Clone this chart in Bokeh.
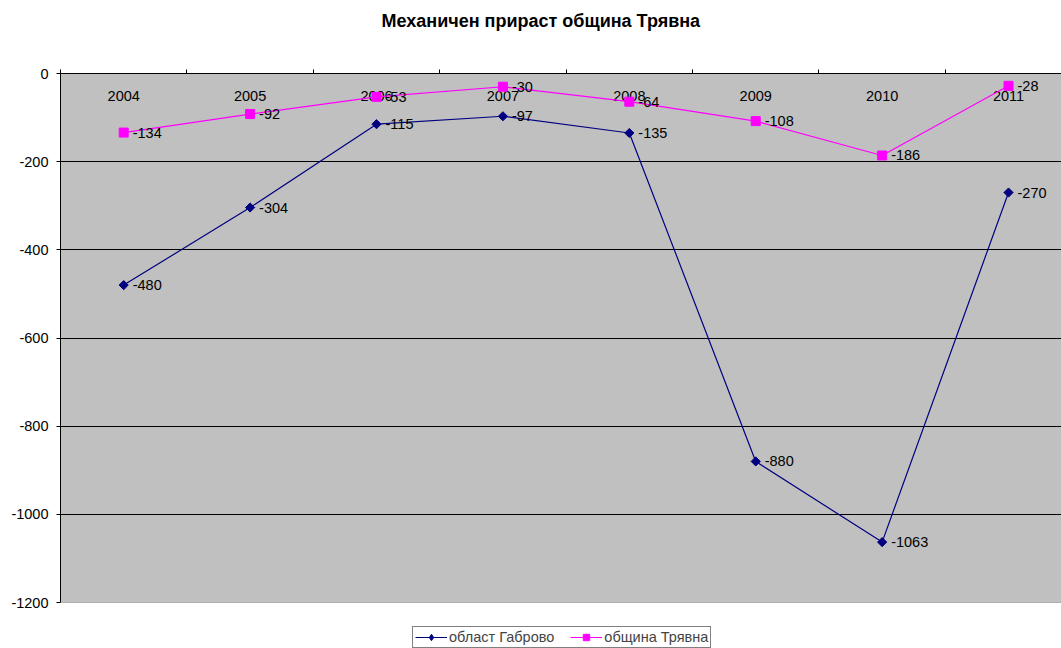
import math
from bokeh.plotting import figure
from bokeh.layouts import column
from bokeh.models import Range1d, FixedTicker, Legend, LegendItem, Span, ColumnDataSource
from bokeh.core.properties import value
from bokeh.embed import file_html
from bokeh.resources import INLINE

title_text = "Механичен прираст община Трявна"
years = ["2004", "2005", "2006", "2007", "2008", "2009", "2010", "2011"]
gabrovo = [-480, -304, -115, -97, -135, -880, -1063, -270]
tryavna = [-134, -92, -53, -30, -64, -108, -186, -28]
series_names = ["област Габрово", "община Трявна"]
y_ticks = [0, -200, -400, -600, -800, -1000, -1200]

FONT = "Liberation Sans"
FS = "14.5px"
NAVY = "#000080"
MAGENTA = "#FF00FF"
xs = [i + 0.5 for i in range(len(years))]


def bare(fig):
    fig.axis.visible = False
    fig.grid.visible = False
    fig.outline_line_color = None
    fig.background_fill_color = "white"
    fig.border_fill_color = "white"


# ---- title strip (frame is aligned with the main frame: starts at x=60, 1001 px wide) ----
p_head = figure(width=1061, height=50, output_backend="svg", toolbar_location=None,
                x_range=Range1d(0, 1001), y_range=Range1d(50, 0), min_border=0)
bare(p_head)
p_head.text(x=[321], y=[20], text=[title_text], text_align="left", text_baseline="middle",
            text_font=value(FONT), text_font_size="18px", text_font_style="bold", text_color="black")

# ---- main chart ----
p = figure(frame_width=1001, frame_height=529, output_backend="svg", toolbar_location=None,
           x_axis_location="above", x_range=Range1d(0, 7.919), y_range=Range1d(-1200, 0),
           min_border_left=60, min_border_right=0, min_border_top=23, min_border_bottom=9)
p.background_fill_color = "#C0C0C0"
p.border_fill_color = "white"
p.outline_line_color = None

p.xaxis.ticker = FixedTicker(ticks=list(range(0, 8)))
p.xaxis.major_tick_out = 4
p.xaxis.major_tick_in = 0
p.xaxis.minor_tick_line_color = None
p.xaxis.major_label_text_color = None
p.xaxis.major_label_text_font_size = "1px"
p.xaxis.axis_line_color = "black"
p.xaxis.major_tick_line_color = "black"

p.yaxis.ticker = FixedTicker(ticks=y_ticks)
p.yaxis.major_label_overrides = {v: str(v) for v in y_ticks}
p.yaxis.major_tick_out = 4
p.yaxis.major_tick_in = 0
p.yaxis.minor_tick_line_color = None
p.yaxis.axis_line_color = "black"
p.yaxis.major_label_text_font = FONT
p.yaxis.major_label_text_font_size = FS
p.yaxis.major_label_text_color = "black"
p.yaxis.major_label_standoff = 8

p.xgrid.grid_line_color = None
p.ygrid.ticker = FixedTicker(ticks=[-200, -400, -600, -800, -1000])
p.ygrid.grid_line_color = "black"
p.ygrid.grid_line_alpha = 1.0

p.add_layout(Span(location=-1200, dimension="width", line_color="#808080", line_width=1))

src_years = ColumnDataSource(dict(x=xs, y=[0] * len(xs), t=years))
p.text("x", "y", text="t", source=src_years, text_align="center", text_baseline="middle",
       y_offset=22, text_font=value(FONT), text_font_size=FS, text_color="black")

p.line(xs, gabrovo, line_color=NAVY, line_width=1.2)
p.scatter(xs, gabrovo, marker="square", angle=math.pi / 4, size=6.5, fill_color=NAVY, line_color=NAVY)
p.line(xs, tryavna, line_color=MAGENTA, line_width=1.2)
p.scatter(xs, tryavna, marker="square", size=9, fill_color=MAGENTA, line_color=MAGENTA)

src_g = ColumnDataSource(dict(x=xs, y=gabrovo, t=[str(v) for v in gabrovo]))
p.text("x", "y", text="t", source=src_g, text_align="left", text_baseline="middle", x_offset=9,
       text_font=value(FONT), text_font_size=FS, text_color="black")
src_t = ColumnDataSource(dict(x=xs, y=tryavna, t=[str(v) for v in tryavna]))
p.text("x", "y", text="t", source=src_t, text_align="left", text_baseline="middle", x_offset=9,
       text_font=value(FONT), text_font_size=FS, text_color="black")

# ---- legend strip (proxy renderers lie outside the visible range) ----
p_leg = figure(width=1061, height=37, output_backend="svg", toolbar_location=None,
               x_range=Range1d(0, 1), y_range=Range1d(0, 1), min_border=0)
bare(p_leg)
off = dict(x=[-10], y=[-10])
lg1 = p_leg.line("x", "y", source=ColumnDataSource(off), line_color=NAVY, line_width=1.2)
mg1 = p_leg.scatter("x", "y", source=ColumnDataSource(off), marker="diamond",
                    size=12, fill_color=NAVY, line_color=NAVY)
lg2 = p_leg.line("x", "y", source=ColumnDataSource(off), line_color=MAGENTA, line_width=1.2)
mg2 = p_leg.scatter("x", "y", source=ColumnDataSource(off), marker="square", size=9,
                    fill_color=MAGENTA, line_color=MAGENTA)

legend = Legend(items=[LegendItem(label=series_names[0], renderers=[lg1, mg1]),
                       LegendItem(label=series_names[1], renderers=[lg2, mg2])],
                orientation="horizontal", location=(352, 0))
legend.label_text_font = FONT
legend.label_text_font_size = FS
legend.label_standoff = 2
legend.label_height = 16
legend.glyph_width = 32
legend.glyph_height = 16
legend.padding = 2
legend.spacing = 16
legend.margin = 0
legend.border_line_color = "black"
legend.border_line_width = 1
legend.background_fill_color = "white"
p_leg.add_layout(legend)

layout = column(p_head, p, p_leg, spacing=0)
open("out.html", "w").write(file_html(layout, INLINE))
